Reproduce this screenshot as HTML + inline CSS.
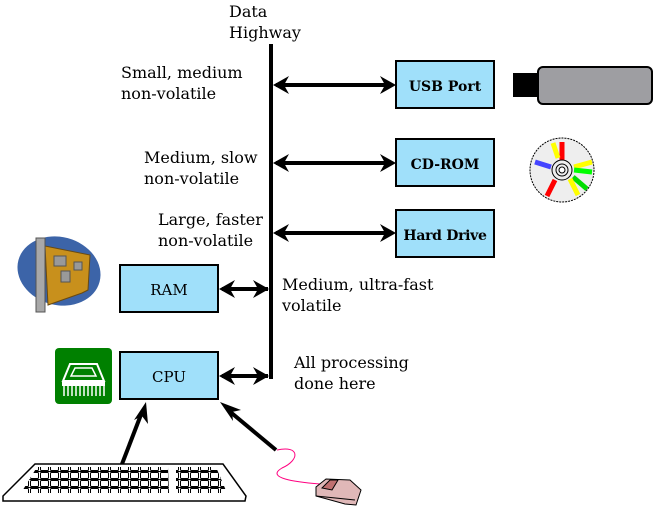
<!DOCTYPE html>
<html><head><meta charset="utf-8"><style>
html,body{margin:0;padding:0;background:#fff;}
svg{display:block}
</style></head><body>
<svg width="654" height="507" viewBox="0 0 654 507" xmlns="http://www.w3.org/2000/svg" font-family="'DejaVu Serif', 'Liberation Serif', serif">
<defs>
<pattern id="keys" x="0" y="0" width="10" height="8" patternUnits="userSpaceOnUse">
<rect x="0.5" y="0.5" width="8" height="6" rx="1" fill="#fff" stroke="#000" stroke-width="1"/>
<rect x="0" y="7" width="10" height="1" fill="#000"/>
</pattern>
</defs>
<g font-size="16" fill="#000">
<text x="229" y="17">Data</text>
<text x="229" y="38">Highway</text>
<text x="121" y="78">Small, medium</text>
<text x="121" y="99">non-volatile</text>
<text x="144" y="163">Medium, slow</text>
<text x="144" y="184">non-volatile</text>
<text x="158" y="225">Large, faster</text>
<text x="158" y="246">non-volatile</text>
<text x="282" y="290">Medium, ultra-fast</text>
<text x="282" y="311">volatile</text>
<text x="294" y="368">All processing</text>
<text x="294" y="389">done here</text>
</g>

<line x1="271" y1="44" x2="271" y2="379" stroke="#000" stroke-width="4"/>
<g stroke="#000" stroke-width="4" fill="none">
<line x1="276" y1="85" x2="392" y2="85"/>
<line x1="276" y1="163" x2="392" y2="163"/>
<line x1="276" y1="233" x2="392" y2="233"/>
<line x1="222" y1="289" x2="268" y2="289"/>
<line x1="222" y1="376" x2="268" y2="376"/>
</g>
<g fill="#000">
<polygon points="273,85 289,76 284,85 289,94"/>
<polygon points="396,85 380,76 385,85 380,94"/>
<polygon points="273,163 289,154 284,163 289,172"/>
<polygon points="396,163 380,154 385,163 380,172"/>
<polygon points="273,233 289,224 284,233 289,242"/>
<polygon points="396,233 380,224 385,233 380,242"/>
<polygon points="219,289 235,280 230,289 235,298"/>
<polygon points="269,289 253,280 258,289 253,298"/>
<polygon points="219,376 235,367 230,376 235,385"/>
<polygon points="269,376 253,367 258,376 253,385"/>
</g>

<g fill="#a0e0fa" stroke="#000" stroke-width="2">
<rect x="396" y="61" width="98" height="47"/>
<rect x="396" y="139" width="98" height="47"/>
<rect x="396" y="210" width="98" height="47"/>
<rect x="120" y="265" width="98" height="47"/>
<rect x="120" y="352" width="98" height="47"/>
</g>
<g text-anchor="middle" font-size="14" fill="#000">
<text x="445" y="91" font-weight="bold">USB Port</text>
<text x="445" y="169" font-weight="bold">CD-ROM</text>
<text x="445" y="240" font-weight="bold" letter-spacing="-0.3">Hard Drive</text>
<text x="169" y="295" font-size="15">RAM</text>
<text x="169" y="382" font-size="15">CPU</text>
</g>

<rect x="513" y="73" width="26" height="24" fill="#000"/>
<rect x="538" y="67" width="114" height="37" rx="5" fill="#9e9ea2" stroke="#000" stroke-width="2"/>

<circle cx="562" cy="170" r="32" fill="#eee" stroke="#000" stroke-width="1" stroke-dasharray="2,1"/>
<g stroke-width="5">
<line x1="562" y1="142" x2="562" y2="160" stroke="#f00"/>
<line x1="553" y1="143" x2="558" y2="158" stroke="#ff0"/>
<line x1="535" y1="162" x2="551" y2="167" stroke="#44f"/>
<line x1="592" y1="162" x2="574" y2="167" stroke="#ff0"/>
<line x1="592" y1="172" x2="574" y2="170" stroke="#0f0"/>
<line x1="587" y1="189" x2="573" y2="177" stroke="#0d0"/>
<line x1="578" y1="195" x2="570" y2="179" stroke="#ff0"/>
<line x1="547" y1="196" x2="555" y2="180" stroke="#f00"/>
</g>
<circle cx="562" cy="170" r="10" fill="#eee" stroke="#000"/>
<circle cx="562" cy="170" r="6" fill="none" stroke="#000"/>
<circle cx="562" cy="170" r="3" fill="#fff" stroke="#000"/>

<ellipse cx="59" cy="271" rx="42" ry="34" fill="#3c64a8" transform="rotate(15 59 271)"/>
<polygon points="45,246 90,255 88,290 82,293 48,305" fill="#c8901c" stroke="#6a4a10"/>
<rect x="36" y="238" width="9" height="74" fill="#a8a8a8" stroke="#555"/>
<rect x="54" y="256" width="12" height="10" fill="#999" stroke="#555"/>
<rect x="74" y="262" width="8" height="8" fill="#999" stroke="#555"/>
<rect x="61" y="271" width="9" height="11" fill="#999" stroke="#555"/>

<rect x="55" y="348" width="57" height="56" rx="4" fill="#008000"/>
<polygon points="70,364 97,364 104,381 63,381" fill="none" stroke="#fff" stroke-width="2"/>
<polygon points="75,368 92,368 96,376 71,376" fill="none" stroke="#fff" stroke-width="1.5"/>
<rect x="62" y="382" width="43" height="4" fill="#fff"/>
<g stroke="#fff" stroke-width="1.5">
<line x1="64" y1="386" x2="64" y2="396"/><line x1="68" y1="386" x2="68" y2="396"/>
<line x1="72" y1="386" x2="72" y2="396"/><line x1="76" y1="386" x2="76" y2="396"/>
<line x1="80" y1="386" x2="80" y2="396"/><line x1="84" y1="386" x2="84" y2="396"/>
<line x1="88" y1="386" x2="88" y2="396"/><line x1="92" y1="386" x2="92" y2="396"/>
<line x1="96" y1="386" x2="96" y2="396"/><line x1="100" y1="386" x2="100" y2="396"/>
<line x1="104" y1="386" x2="104" y2="396"/>
</g>

<line x1="122" y1="464" x2="142" y2="412" stroke="#000" stroke-width="4"/>
<polygon points="146,402 148,424 142,416 134,420" fill="#000"/>
<line x1="276" y1="450" x2="228" y2="410" stroke="#000" stroke-width="4"/>
<polygon points="220,402 241,410 232,412 233,421" fill="#000"/>
<path d="M277,450 C300,445 300,460 282,468 C265,478 295,482 320,484" fill="none" stroke="#ff0080" stroke-width="1"/>

<polygon points="316,487 326,479 350,480 361,490 356,505 345,504 316,496" fill="#e0b8b8" stroke="#000" stroke-width="1"/>
<polygon points="322,488 330,480 338,480 332,490" fill="#c07070" stroke="#000"/>
<line x1="316" y1="496" x2="355" y2="500" stroke="#000"/>

<polygon points="35,464 223,464 246,496 245,501 3,501 3,496" fill="#fff" stroke="#000" stroke-width="1.5"/>
<polygon points="37,467 168,467 169,493 21,493" fill="url(#keys)"/>
<polygon points="176,467 216,467 227,493 176,493" fill="url(#keys)"/>
</svg>
</body></html>
